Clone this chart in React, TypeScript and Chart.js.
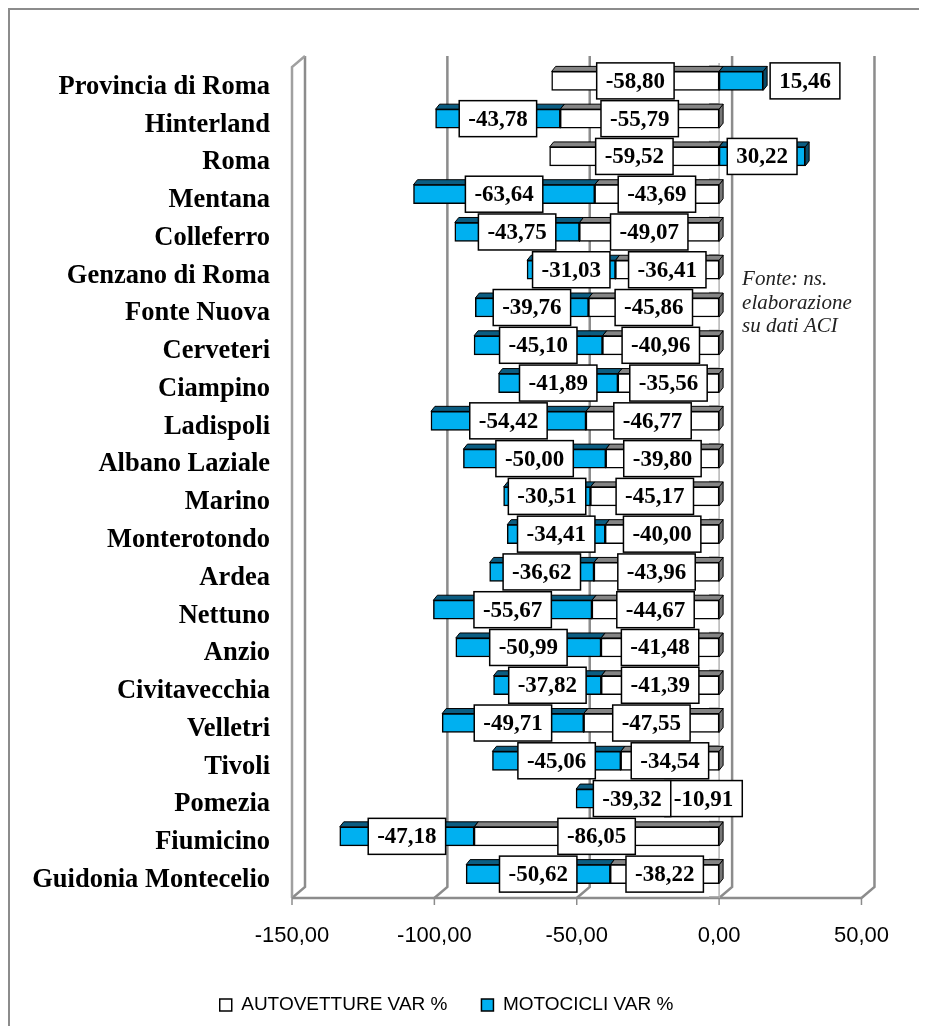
import React, { useEffect, useRef } from 'react';
import { Chart, registerables } from 'chart.js';

Chart.register(...registerables);

const categories = [
  'Provincia di Roma', 'Hinterland', 'Roma', 'Mentana', 'Colleferro', 'Genzano di Roma',
  'Fonte Nuova', 'Cerveteri', 'Ciampino', 'Ladispoli', 'Albano Laziale', 'Marino',
  'Monterotondo', 'Ardea', 'Nettuno', 'Anzio', 'Civitavecchia', 'Velletri', 'Tivoli',
  'Pomezia', 'Fiumicino', 'Guidonia Montecelio',
];
const autovetture = [
  -58.80, -55.79, -59.52, -43.69, -49.07, -36.41, -45.86, -40.96, -35.56, -46.77, -39.80,
  -45.17, -40.00, -43.96, -44.67, -41.48, -41.39, -47.55, -34.54, -10.91, -86.05, -38.22,
];
const motocicli = [
  15.46, -43.78, 30.22, -63.64, -43.75, -31.03, -39.76, -45.10, -41.89, -54.42, -50.00,
  -30.51, -34.41, -36.62, -55.67, -50.99, -37.82, -49.71, -45.06, -39.32, -47.18, -50.62,
];
const xTicks = [-150, -100, -50, 0, 50];
const seriesNames = ['AUTOVETTURE VAR %', 'MOTOCICLI VAR %'];
const sourceNote = ['Fonte: ns.', 'elaborazione', 'su dati ACI'];

const DX = 13; // wall depth x
const DY = 11; // wall depth y
const BX = 4; // bar depth x
const BY = 5; // bar depth y

const fmt = (v: number) => v.toFixed(2).replace('.', ',');

const framePlugin = {
  id: 'frame3d',
  beforeDatasetsDraw(chart: any) {
    const { ctx, chartArea: ca } = chart;
    const xs = chart.scales.x;
    const fTop = ca.top + 5;
    const fBot = ca.bottom + 5;
    const bTop = fTop - DY;
    const bBot = fBot - DY;
    const L = xs.getPixelForValue(xTicks[0]);
    const R = xs.getPixelForValue(xTicks[xTicks.length - 1]);
    const z = xs.getPixelForValue(0);
    ctx.save();
    ctx.lineCap = 'butt';
    ctx.strokeStyle = '#8c8c8c';
    ctx.lineWidth = 2.5;
    xTicks.forEach((v) => {
      const px = xs.getPixelForValue(v);
      ctx.beginPath();
      ctx.moveTo(px + DX, bTop);
      ctx.lineTo(px + DX, bBot);
      ctx.lineTo(px, fBot);
      ctx.stroke();
    });
    ctx.strokeStyle = '#a0a0a0';
    ctx.beginPath();
    ctx.moveTo(L + DX, bTop);
    ctx.lineTo(L, fTop);
    ctx.lineTo(L, fBot);
    ctx.stroke();
    ctx.strokeStyle = '#8c8c8c';
    ctx.beginPath();
    ctx.moveTo(L, fBot);
    ctx.lineTo(R, fBot);
    ctx.stroke();
    ctx.lineWidth = 1.5;
    xTicks.forEach((v) => {
      const px = xs.getPixelForValue(v);
      ctx.beginPath();
      ctx.moveTo(px, fBot);
      ctx.lineTo(px, fBot + 7);
      ctx.stroke();
    });
    ctx.strokeStyle = '#b4b4b4';
    ctx.lineWidth = 1.5;
    ctx.beginPath();
    ctx.moveTo(z, fTop - 4);
    ctx.lineTo(z, fBot);
    ctx.stroke();
    const band = (ca.bottom - ca.top) / categories.length;
    ctx.strokeStyle = '#a0a0a0';
    for (let i = 0; i <= categories.length; i++) {
      const y = ca.top + i * band + 4;
      ctx.beginPath();
      ctx.moveTo(z - 10, y);
      ctx.lineTo(z, y);
      ctx.stroke();
    }
    ctx.restore();
  },
};

const barFaceColors = [
  { top: '#858585', side: '#777777' },
  { top: '#0b5d82', side: '#084a68' },
];

const bar3dPlugin = {
  id: 'bar3d',
  beforeDatasetsDraw(chart: any) {
    const { ctx } = chart;
    const rects: any[] = [];
    chart.data.datasets.forEach((ds: any, di: number) => {
      const meta = chart.getDatasetMeta(di);
      meta.data.forEach((el: any) => {
        const p = el.getProps(['x', 'y', 'base', 'height'], true);
        const left = Math.min(p.x, p.base);
        const right = Math.max(p.x, p.base);
        const top = p.y - p.height / 2;
        const bottom = p.y + p.height / 2;
        rects.push({ left, right, top, bottom, di });
      });
    });
    ctx.save();
    ctx.lineWidth = 1;
    ctx.strokeStyle = '#000';
    rects.forEach((r) => {
      ctx.beginPath();
      ctx.moveTo(r.right, r.top);
      ctx.lineTo(r.right + BX, r.top - BY);
      ctx.lineTo(r.right + BX, r.bottom - BY);
      ctx.lineTo(r.right, r.bottom);
      ctx.closePath();
      ctx.fillStyle = barFaceColors[r.di].side;
      ctx.fill();
      ctx.stroke();
    });
    rects.forEach((r) => {
      ctx.beginPath();
      ctx.moveTo(r.left, r.top);
      ctx.lineTo(r.left + BX, r.top - BY);
      ctx.lineTo(r.right + BX, r.top - BY);
      ctx.lineTo(r.right, r.top);
      ctx.closePath();
      ctx.fillStyle = barFaceColors[r.di].top;
      ctx.fill();
      ctx.stroke();
    });
    ctx.restore();
  },
};

const labelPlugin = {
  id: 'boxLabels',
  afterDatasetsDraw(chart: any) {
    const { ctx } = chart;
    ctx.save();
    ctx.font = 'bold 23px "Liberation Serif"';
    ctx.textAlign = 'center';
    ctx.textBaseline = 'middle';
    chart.data.datasets.forEach((ds: any, di: number) => {
      const meta = chart.getDatasetMeta(di);
      meta.data.forEach((el: any, i: number) => {
        const v = ds.data[i];
        const p = el.getProps(['x', 'y', 'base'], true);
        const text = fmt(v);
        const w = ctx.measureText(text).width + 18;
        const h = 36;
        const seg = Math.abs(p.x - p.base);
        let cx = (p.x + p.base) / 2;
        if (v > 0 && w > seg) cx = Math.max(p.x, p.base) + BX + 3 + w / 2;
        const cy = p.y;
        ctx.fillStyle = '#fff';
        ctx.fillRect(cx - w / 2, cy - h / 2, w, h);
        ctx.lineWidth = 1.5;
        ctx.strokeStyle = '#000';
        ctx.strokeRect(cx - w / 2, cy - h / 2, w, h);
        ctx.fillStyle = '#000';
        ctx.fillText(text, cx, cy + 1);
      });
    });
    ctx.restore();
  },
};

const notePlugin = {
  id: 'note',
  afterDraw(chart: any) {
    const { ctx, chartArea: ca } = chart;
    const z = chart.scales.x.getPixelForValue(0);
    ctx.save();
    ctx.font = 'italic 21px "Liberation Serif"';
    ctx.fillStyle = '#222';
    ctx.textAlign = 'left';
    ctx.textBaseline = 'alphabetic';
    sourceNote.forEach((line, i) => {
      ctx.fillText(line, z + 23, ca.top + 223 + i * 23.5);
    });
    ctx.restore();
  },
};

export default function App() {
  const ref = useRef<HTMLCanvasElement>(null);
  useEffect(() => {
    if (!ref.current) return;
    const chart = new Chart(ref.current, {
      type: 'bar',
      data: {
        labels: categories,
        datasets: [
          {
            label: seriesNames[0],
            data: autovetture,
            backgroundColor: '#ffffff',
            borderColor: '#000000',
            borderWidth: 1.5,
            borderSkipped: false,
            barThickness: 19,
          },
          {
            label: seriesNames[1],
            data: motocicli,
            backgroundColor: '#00b0f0',
            borderColor: '#000000',
            borderWidth: 1.5,
            borderSkipped: false,
            barThickness: 19,
          },
        ],
      },
      options: {
        indexAxis: 'y',
        responsive: false,
        animation: false,
        layout: { padding: { top: 52, left: 20, right: 56, bottom: 1.5 } },
        scales: {
          x: {
            type: 'linear',
            stacked: true,
            min: -150,
            max: 50,
            position: 'bottom',
            grid: { display: false, drawTicks: false },
            border: { display: false },
            ticks: {
              stepSize: 50,
              autoSkip: false,
              maxRotation: 0,
              padding: 30,
              color: '#000',
              font: { family: 'Liberation Sans', size: 22 },
              callback: (v: any) => fmt(Number(v)),
            },
            afterBuildTicks: (s: any) => {
              s.ticks = xTicks.map((v) => ({ value: v }));
            },
            afterFit: (s: any) => {
              s.height = 68.5;
            },
          },
          y: {
            type: 'category',
            stacked: true,
            grid: { display: false, drawTicks: false },
            border: { display: false },
            ticks: {
              autoSkip: false,
              padding: 22,
              labelOffset: 6,
              color: '#000',
              font: { family: 'Liberation Serif', size: 26.5, weight: 'bold' },
            },
            afterFit: (s: any) => {
              s.width = 262;
            },
          },
        },
        plugins: {
          tooltip: { enabled: false },
          legend: {
            display: true,
            position: 'bottom',
            labels: {
              boxWidth: 12,
              boxHeight: 12,
              padding: 34,
              color: '#000',
              font: { family: 'Liberation Sans', size: 19 },
            },
          },
        },
      },
      plugins: [framePlugin, bar3dPlugin, labelPlugin, notePlugin],
    } as any);
    return () => chart.destroy();
  }, []);

  return (
    <div
      style={{
        width: 911,
        height: 1018,
        boxSizing: 'border-box',
        borderTop: '2px solid #8c8c8c',
        borderLeft: '2px solid #8c8c8c',
        background: '#fff',
      }}
    >
      <canvas ref={ref} width={909} height={1016} style={{ display: 'block', width: 909, height: 1016 }} />
    </div>
  );
}
